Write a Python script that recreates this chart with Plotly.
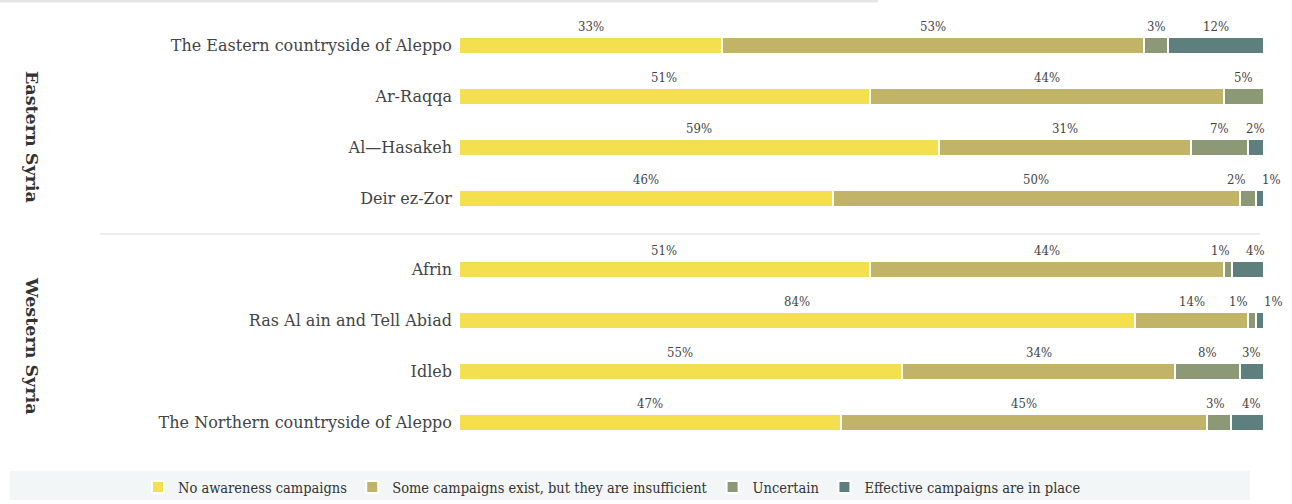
import plotly.graph_objects as go

# ---------------- data ----------------
regions = [
    "The Eastern countryside of Aleppo",
    "Ar-Raqqa",
    "Al\u2014Hasakeh",
    "Deir ez-Zor",
    "Afrin",
    "Ras Al ain and Tell Abiad",
    "Idleb",
    "The Northern countryside of Aleppo",
]
groups = ["Eastern Syria"] * 4 + ["Western Syria"] * 4
group_names = ["Eastern Syria", "Western Syria"]

series_names = [
    "No awareness campaigns",
    "Some campaigns exist, but they are insufficient",
    "Uncertain",
    "Effective campaigns are in place",
]
no_awareness = [33, 51, 59, 46, 51, 84, 55, 47]
insufficient = [53, 44, 31, 50, 44, 14, 34, 45]
uncertain = [3, 5, 7, 2, 1, 1, 8, 3]
effective = [12, 0, 2, 1, 4, 1, 3, 4]
series_values = [no_awareness, insufficient, uncertain, effective]

# ---------------- styling ----------------
colors = ["#F4DF4E", "#C1B367", "#8D9876", "#5D807F"]
FONT = "DejaVu Serif"
FONT_COND = "DejaVu Serif Condensed, DejaVu Serif"
TEXT_COL = "#444444"
GROUP_GAP = 0.39
BAR_W = 0.34

PLOT_L, PLOT_R, PLOT_T, PLOT_B = 459, 28, 20, 56
W, H = 1292, 504
plot_w = W - PLOT_L - PLOT_R
plot_h = H - PLOT_T - PLOT_B

# y positions with a gap between the two groups
ypos = []
for i, g in enumerate(groups):
    ypos.append(i + (GROUP_GAP if g == group_names[1] else 0.0))

fig = go.Figure()
for name, vals, col in zip(series_names, series_values, colors):
    fig.add_trace(go.Bar(
        name=name,
        y=ypos,
        x=vals,
        orientation="h",
        width=BAR_W,
        marker=dict(color=col, line=dict(color="white", width=2)),
        hoverinfo="x+name",
    ))

# ---------------- labels above the segments ----------------
annotations = []
px_per_unit = plot_w / 100.0
for r in range(len(regions)):
    vals = [s[r] for s in series_values]
    tot = float(sum(vals))
    cum = 0.0
    items = []
    for v in vals:
        nv = v / tot * 100.0
        if v > 0:
            items.append({"text": f"{v}%", "c": cum + nv / 2.0})
        cum += nv
    # collision avoidance in pixel space
    pos = [it["c"] * px_per_unit for it in items]
    wid = [6.6 * (len(it["text"]) - 1) + 12 for it in items]
    for _ in range(60):
        for k in range(1, len(pos)):
            need = (wid[k] + wid[k - 1]) / 2.0 + 17
            d = pos[k] - pos[k - 1]
            if d < need:
                shift = (need - d) / 2.0
                pos[k] += shift
                pos[k - 1] -= shift
    for it, p in zip(items, pos):
        annotations.append(dict(
            x=it["c"], y=ypos[r], xref="x", yref="y",
            text=it["text"], showarrow=False,
            xshift=p - it["c"] * px_per_unit, yshift=19,
            font=dict(family=FONT_COND, size=13, color=TEXT_COL),
        ))

# group labels (rotated)
def py(pix):
    return (H - PLOT_B - pix) / plot_h

def px(pix):
    return (pix - PLOT_L) / plot_w

for gname, ycen in zip(group_names, [137, 346]):
    annotations.append(dict(
        x=px(32), y=py(ycen), xref="paper", yref="paper",
        text=f"<b>{gname}</b>", showarrow=False, textangle=90,
        font=dict(family=FONT, size=17.5, color="#333333"),
        xanchor="center", yanchor="middle",
    ))

sep_y = (ypos[3] + ypos[4]) / 2.0
shapes = [
    # top gray strip
    dict(type="rect", xref="paper", yref="paper",
         x0=px(0), x1=px(878), y0=py(2.5), y1=py(0),
         fillcolor="#E6E6E6", line=dict(width=0), layer="below"),
    # separator between groups
    dict(type="line", xref="paper", yref="y",
         x0=px(100), x1=px(1260), y0=sep_y, y1=sep_y,
         line=dict(color="#DADADA", width=1)),
    # legend background
    dict(type="rect", xref="paper", yref="paper",
         x0=px(10), x1=px(1250), y0=py(500), y1=py(471),
         fillcolor="#F2F6F6", line=dict(width=0), layer="below"),
]

fig.update_layout(
    barmode="stack",
    barnorm="percent",
    width=W, height=H,
    margin=dict(l=PLOT_L, r=PLOT_R, t=PLOT_T, b=PLOT_B, pad=0, autoexpand=False),
    paper_bgcolor="white",
    plot_bgcolor="white",
    font=dict(family=FONT, color=TEXT_COL),
    showlegend=True,
    legend=dict(
        orientation="h",
        xref="paper", yref="paper",
        x=px(138), xanchor="left",
        y=py(487), yanchor="middle",
        font=dict(family=FONT_COND, size=14.5, color="#333333"),
        bgcolor="rgba(0,0,0,0)",
        itemwidth=30, traceorder="normal",
    ),
    xaxis=dict(range=[0, 100], visible=False, fixedrange=True),
    yaxis=dict(
        range=[ypos[-1] + 0.5, -0.5],
        tickmode="array", tickvals=ypos, ticktext=regions,
        showgrid=False, zeroline=False, showline=False,
        ticks="", ticklabelstandoff=6,
        tickfont=dict(family=FONT, size=16, color=TEXT_COL),
        fixedrange=True,
    ),
    annotations=annotations,
    shapes=shapes,
)

fig.write_html("out.html")
